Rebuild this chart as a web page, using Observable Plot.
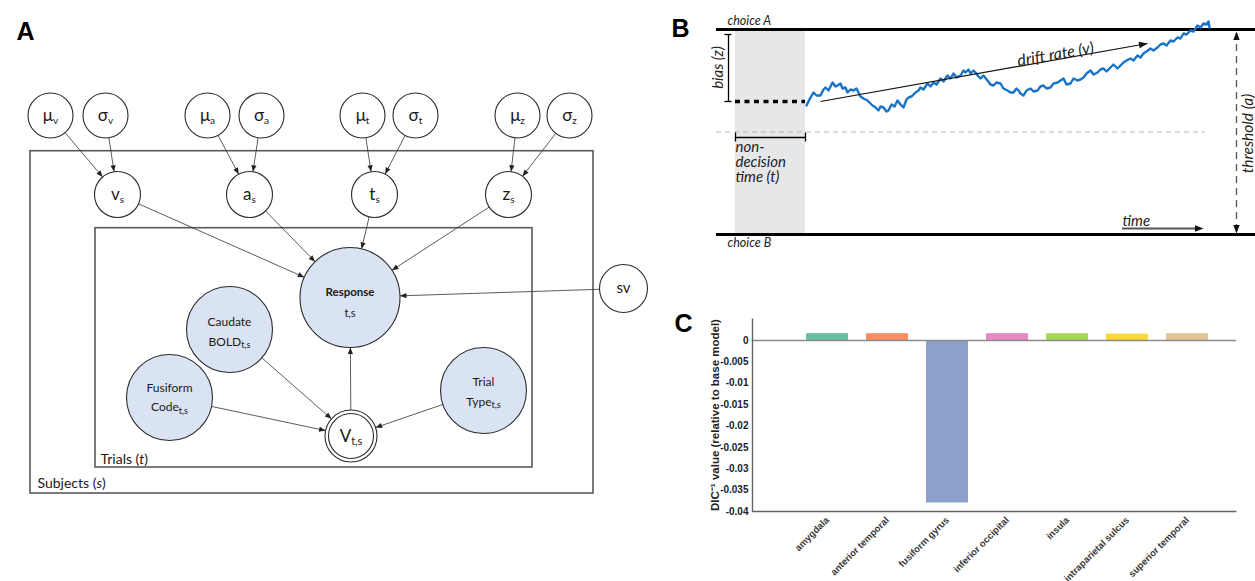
<!DOCTYPE html>
<html>
<head>
<meta charset="utf-8">
<script src="https://cdn.jsdelivr.net/npm/d3@7"></script>
<script src="https://cdn.jsdelivr.net/npm/@observablehq/plot@0.6"></script>
<style>
  html,body{margin:0;padding:0;background:#fff;}
  #fig{position:relative;width:1255px;height:581px;overflow:hidden;background:#fff;}
  #fig svg{position:absolute;}
</style>
</head>
<body>
<div id="fig"></div>
<script>
// ================= DATA =================
// ---- Panel A: hierarchical drift-diffusion model (diagram units) ----
const nodeIds    = ["muV","sigV","muA","sigA","muT","sigT","muZ","sigZ","vS","aS","tS","zS","resp","caud","fus","trial","V","sv"];
const nodeKinds  = ["param","param","param","param","param","param","param","param","param","param","param","param","observed","observed","observed","observed","deterministic","param"];
const nodeLabels = ["μ_v","σ_v","μ_a","σ_a","μ_t","σ_t","μ_z","σ_z","v_s","a_s","t_s","z_s","Response\nt,s","Caudate\nBOLD_t,s","Fusiform\nCode_t,s","Trial\nType_t,s","V_t,s","sv"];
const nodeX      = [50,105,207,261,362,415,517,569,117,249,374,508,349.5,229,169,483,350.5,623];
const nodeY      = [115,115,115,115,115,115,115,115,194,194,194,194,297,329,397,390,435.5,288];
const nodeR      = [22.5,22.5,22.5,22.5,22.5,22.5,22.5,22.5,23,23,23,23,50,43,43,43,26,24];
const edgeFrom   = ["muV","sigV","muA","sigA","muT","sigT","muZ","sigZ","vS","aS","tS","zS","sv","caud","fus","trial","V"];
const edgeTo     = ["vS","vS","aS","aS","tS","tS","zS","zS","resp","resp","resp","resp","resp","V","V","V","resp"];
const plateNames = ["Subjects (_s_)", "Trials (_t_)"];
const plateX1 = [30, 95], plateX2 = [593, 532], plateY1 = [150.7, 227.7], plateY2 = [493, 467];
const plateLabelX = [37, 100], plateLabelY = [483, 459];

// ---- Panel B: drift diffusion process (time units / evidence units) ----
const thresholdA = 205;     // boundary separation a
const startZ = 133;         // starting point (bias z)
const nonDecision = 70;     // non-decision time t
const walkTime = [71,75,78,81,85,88,90,93,97,100,102,105,107,110,112,115,118,121,123,125,128,132,135,137,140,143,145,148,151,153,156,159,162,165,168,171,173,176,180,183,185,188,192,195,198,201,205,208,212,215,218,221,225,228,230,233,235,238,240,243,245,248,252,255,258,261,265,268,272,275,278,281,283,285,288,291,295,298,302,305,308,311,315,318,322,325,328,331,335,338,342,345,348,351,355,358,362,365,368,371,375,378,382,385,388,391,395,398,402,405,408,411,415,418,422,425,428,431,435,438,442,445,448,451,455,458,462,465,468,471,473,474];
const walkEvidence = [129,137,142,139,139,145,147,144,152,148,149,151,146,147,142,145,144,146,142,138,136,134,131,129,127,124,128,127,123,124,130,128,134,130,127,135,137,138,142,144,147,145,151,148,152,150,156,153,159,156,161,157,159,164,162,165,161,164,162,158,156,159,154,150,149,152,151,146,144,142,142,146,144,141,139,144,146,143,144,148,149,146,147,151,152,154,156,150,151,156,154,155,157,161,164,160,162,165,166,163,167,170,166,169,172,174,176,174,179,177,181,183,186,184,187,190,191,189,194,193,197,196,201,200,204,203,209,207,211,210,213,207];
const driftFrom = [85, 133], driftTo = [412, 191];

// ---- Panel C: model comparison ----
const regions = ["amygdala","anterior temporal","fusiform gyrus","inferior occipital","insula","intraparietal sulcus","superior temporal"];
const dicInverse = [0.0016, 0.0016, -0.038, 0.0016, 0.0016, 0.0015, 0.0016];
const regionColors = ["#66c2a5","#fc8d62","#8da0cb","#e78ac3","#a6d854","#ffd92f","#e5c494"];
const dicTicks = [0,-0.005,-0.01,-0.015,-0.02,-0.025,-0.03,-0.035,-0.04];
const dicLabel = "DIC⁻¹ value (relative to base model)";

// ================= HELPERS =================
const FONT = "Lato, 'Open Sans', 'DejaVu Sans', sans-serif";
const FONT_BOLD_LETTER = "'Liberation Sans', Arial, sans-serif";
const fig = document.getElementById("fig");
function place(svg, left, top) { svg.style.left = left + "px"; svg.style.top = top + "px"; fig.appendChild(svg); }

const cv = document.createElement("canvas").getContext("2d");
function textWidth(s, size, weight, style) {
  cv.font = `${style} ${weight} ${size}px ${FONT}`;
  return cv.measureText(s).width;
}
function layoutLine(parts, x, y, anchor) {
  const ws = parts.map(p => textWidth(p.text, p.size, p.weight || "normal", p.style || "normal"));
  const total = d3.sum(ws);
  let cx = anchor === "middle" ? x - total / 2 : x;
  return parts.map((p, i) => {
    const it = {x: cx, y: y + (p.dy || 0), text: p.text, size: p.size, weight: p.weight || "normal", style: p.style || "normal"};
    cx += ws[i];
    return it;
  });
}
function textMarks(items, extra = {}) {
  return d3.groups(items, d => d.weight + "|" + d.style).map(([, arr]) =>
    Plot.text(arr, {x: "x", y: "y", text: "text", fontSize: d => d.size, fontWeight: arr[0].weight, fontStyle: arr[0].style,
      textAnchor: "start", lineAnchor: "middle", fill: "#1a1a1a", fontFamily: FONT, ...extra}));
}
// arrowhead symbols: tip at origin, pointing "up" before rotation
const headSmall = {draw(c) { c.moveTo(0, 0); c.lineTo(-2.6, 6.5); c.lineTo(2.6, 6.5); c.closePath(); }};
const headLarge = {draw(c) { c.moveTo(0, 0); c.lineTo(-3.2, 8.5); c.lineTo(3.2, 8.5); c.closePath(); }};

// ================= PANEL A =================
const nodes = nodeIds.map((id, i) => ({id, kind: nodeKinds[i], label: nodeLabels[i], x: nodeX[i], y: nodeY[i], r: nodeR[i]}));
const byId = Object.fromEntries(nodes.map(n => [n.id, n]));
const edges = edgeFrom.map((s, i) => {
  const a = byId[s], b = byId[edgeTo[i]];
  const dx = b.x - a.x, dy = b.y - a.y, L = Math.hypot(dx, dy), ux = dx / L, uy = dy / L;
  return {x1: a.x + ux * a.r, y1: a.y + uy * a.r, x2: b.x - ux * b.r, y2: b.y - uy * b.r, angle: Math.atan2(uy, ux) * 180 / Math.PI + 90};
});
const lineOffsets = {resp: [-5.5, 15.5], caud: [-7.5, 12.5], fus: [-9, 10], trial: [-8, 11.5]};
const labelItems = [];
nodes.forEach(n => {
  const lines = n.label.split("\n");
  const offs = lineOffsets[n.id] || [0];
  lines.forEach((ln, j) => {
    const [main, sub] = ln.split("_");
    let parts;
    if (n.id === "resp") parts = j === 0 ? [{text: main, size: 11.5, weight: "bold"}] : [{text: main, size: 11}];
    else if (n.kind === "observed") parts = [{text: main, size: 12}].concat(sub ? [{text: sub, size: 9, dy: 3.5}] : []);
    else if (n.id === "sv") parts = [{text: main, size: 15}];
    else if (n.kind === "deterministic") parts = [{text: main, size: 17}, {text: sub, size: 11, dy: 4.5}];
    else parts = [{text: main, size: 17}, {text: sub, size: 10, dy: 5}];
    labelItems.push(...layoutLine(parts, n.x, n.y + offs[j] + (n.kind === "deterministic" ? 1 : 0), "middle"));
  });
});
plateNames.forEach((name, i) => {
  const [a, b, c] = name.split("_");
  labelItems.push(...layoutLine([{text: a, size: 14}, {text: b, size: 14, style: "italic"}, {text: c, size: 14}], plateLabelX[i], plateLabelY[i], "start"));
});
const plates = plateNames.map((n, i) => ({x1: plateX1[i], x2: plateX2[i], y1: plateY1[i], y2: plateY2[i]}));

const panelA = Plot.plot({
  width: 660, height: 581, margin: 0,
  style: {fontFamily: FONT, background: "transparent", overflow: "visible"},
  x: {domain: [0, 660], range: [0, 660], axis: null},
  y: {domain: [0, 581], range: [0, 581], axis: null},
  r: {type: "linear", domain: [0, 100], range: [0, 100]},
  color: {type: "identity"},
  marks: [
    Plot.rect(plates, {x1: "x1", x2: "x2", y1: "y1", y2: "y2", fill: "none", stroke: "#595959", strokeWidth: 1.6}),
    Plot.link(edges, {x1: "x1", y1: "y1", x2: "x2", y2: "y2", stroke: "#333", strokeWidth: 0.8}),
    Plot.dot(edges, {x: "x2", y: "y2", symbol: headSmall, rotate: "angle", fill: "#222", stroke: "none"}),
    Plot.dot(nodes, {x: "x", y: "y", r: "r", fill: d => d.kind === "observed" ? "#dae3f3" : "#ffffff", stroke: "#2b2b2b", strokeWidth: 1.1}),
    Plot.dot(nodes.filter(d => d.kind === "deterministic"), {x: "x", y: "y", r: d => d.r - 3.5, fill: "none", stroke: "#2b2b2b", strokeWidth: 1.1}),
    ...textMarks(labelItems),
    Plot.text(["A"], {frameAnchor: "top-left", dx: 25, dy: 31, fontSize: 25, fontWeight: "bold", fontFamily: FONT_BOLD_LETTER, fill: "#000", textAnchor: "middle", lineAnchor: "middle"})
  ]
});
place(panelA, 0, 0);

// ================= PANEL B =================
const walk = walkTime.map((t, i) => ({t, e: walkEvidence[i]}));
const angleOf = (t1, e1, t2, e2) => Math.atan2(-(e2 - e1), t2 - t1) * 180 / Math.PI + 90;
const bHeads = [
  {t: driftTo[0], e: driftTo[1], a: angleOf(driftFrom[0], driftFrom[1], driftTo[0], driftTo[1])},
  {t: 468, e: 6, a: angleOf(387, 6, 468, 6)},
  {t: 501, e: 203, a: angleOf(501, 100, 501, 203)},
  {t: 501, e: 1, a: angleOf(501, 100, 501, 1)}
];
const bTextsItalic = [
  {t: -8, e: 213.5, text: "choice A", size: 12.5, rot: 0, anchor: "start"},
  {t: -8, e: -8.5, text: "choice B", size: 12.5, rot: 0, anchor: "start"},
  {t: 0, e: 87, text: "non-", size: 15, rot: 0, anchor: "start"},
  {t: 0, e: 72, text: "decision", size: 15, rot: 0, anchor: "start"},
  {t: 0, e: 57, text: "time (t)", size: 15, rot: 0, anchor: "start"},
  {t: 387, e: 13.5, text: "time", size: 15, rot: 0, anchor: "start"},
  {t: -17, e: 167, text: "bias (z)", size: 15, rot: -90, anchor: "middle"},
  {t: 320, e: 180, text: "drift rate (v)", size: 16, rot: -10, anchor: "middle"},
  {t: 513, e: 101, text: "threshold (a)", size: 15.5, rot: -90, anchor: "middle"}
];
const panelB = Plot.plot({
  width: 595, height: 300, margin: 0,
  style: {fontFamily: FONT, background: "transparent", overflow: "visible"},
  x: {domain: [-75, 520], axis: null},
  y: {domain: [-66, 234], axis: null},
  marks: [
    Plot.rect([{t1: 0, t2: nonDecision, e1: 0, e2: thresholdA}], {x1: "t1", x2: "t2", y1: "e1", y2: "e2", fill: "#e6e7e9"}),
    Plot.ruleY([thresholdA / 2], {x1: -19, x2: 470, stroke: "#b8b8b8", strokeWidth: 1.2, strokeDasharray: "5,4"}),
    Plot.ruleY([0, thresholdA], {x1: -19, x2: 520, stroke: "#000", strokeWidth: 3}),
    Plot.ruleY([startZ], {x1: 0, x2: nonDecision, stroke: "#000", strokeWidth: 3.5, strokeDasharray: "5,4.5"}),
    // bias bracket
    Plot.ruleX([-7], {y1: startZ, y2: 200, stroke: "#000", strokeWidth: 1.3}),
    Plot.ruleY([startZ, 200], {x1: -10.5, x2: -3.5, stroke: "#000", strokeWidth: 1.3}),
    // non-decision bracket
    Plot.ruleY([97], {x1: 0, x2: nonDecision, stroke: "#000", strokeWidth: 1.3}),
    Plot.ruleX([0, nonDecision], {y1: 92.5, y2: 101.5, stroke: "#000", strokeWidth: 1.3}),
    // random walk
    Plot.line(walk, {x: "t", y: "e", stroke: "#1a73c5", strokeWidth: 2.4, strokeLinejoin: "round"}),
    // drift arrow
    Plot.link([{}], {x1: () => driftFrom[0], y1: () => driftFrom[1], x2: () => driftTo[0], y2: () => driftTo[1], stroke: "#111", strokeWidth: 1.2}),
    // threshold arrow
    Plot.ruleX([501], {y1: 3, y2: 201, stroke: "#555", strokeWidth: 1.3, strokeDasharray: "7,5"}),
    // time arrow
    Plot.ruleY([6], {x1: 387, x2: 462, stroke: "#555", strokeWidth: 2}),
    Plot.dot(bHeads, {x: "t", y: "e", symbol: headLarge, rotate: "a", fill: "#111", stroke: "none"}),
    Plot.text(bTextsItalic.filter(d => d.anchor === "start"), {x: "t", y: "e", text: "text", fontSize: d => d.size, rotate: "rot", fontStyle: "italic", textAnchor: "start", lineAnchor: "middle", fill: "#222", fontFamily: FONT}),
    Plot.text(bTextsItalic.filter(d => d.anchor === "middle"), {x: "t", y: "e", text: "text", fontSize: d => d.size, rotate: "rot", fontStyle: "italic", textAnchor: "middle", lineAnchor: "middle", fill: "#222", fontFamily: FONT}),
    Plot.text(["B"], {frameAnchor: "top-left", dx: 20, dy: 28, fontSize: 25, fontWeight: "bold", fontFamily: FONT_BOLD_LETTER, fill: "#000", textAnchor: "middle", lineAnchor: "middle"})
  ]
});
place(panelB, 660, 0);

// ================= PANEL C =================
const cData = regions.map((r, i) => ({region: r, value: dicInverse[i], color: regionColors[i]}));
const WC = 595, HC = 281, mL = 92, mT = 18, mR = 19, mB = 70;
const frameW = WC - mL - mR, frameH = HC - mT - mB;
const panelC = Plot.plot({
  width: WC, height: HC, marginLeft: mL, marginTop: mT, marginRight: mR, marginBottom: mB,
  style: {fontFamily: "'Liberation Sans', Arial, sans-serif", background: "transparent", overflow: "visible"},
  x: {domain: regions, range: [144.3, 548.9], paddingInner: 0.3, paddingOuter: 0},
  y: {domain: [-0.04, 0.00515]},
  color: {type: "identity"},
  marks: [
    Plot.barY(cData, {x: "region", y: "value", fill: "color"}),
    Plot.ruleY([0], {stroke: "#8c8c8c", strokeWidth: 1.4}),
    Plot.frame({stroke: "#666", strokeWidth: 1.4, strokeDasharray: `0 ${frameW + frameH} ${frameW + frameH}`}),
    Plot.axisY({ticks: dicTicks, tickSize: 0, tickPadding: 4, tickFormat: d => d === 0 ? "0" : String(d), fontWeight: "bold", fontSize: 10, fill: "#222", label: null}),
    Plot.axisX({tickRotate: -45, tickSize: 0, tickPadding: 7, fontWeight: "bold", fontSize: 9.5, fill: "#3a3a3a", label: null}),
    Plot.text([dicLabel], {frameAnchor: "left", dx: -37, rotate: -90, textAnchor: "middle", fontWeight: "bold", fontSize: 11.5, fill: "#222", lineAnchor: "middle"}),
    Plot.text(["C"], {frameAnchor: "top-left", dx: -69, dy: 5, fontSize: 25, fontWeight: "bold", fontFamily: FONT_BOLD_LETTER, fill: "#000", textAnchor: "middle", lineAnchor: "middle"})
  ]
});
place(panelC, 660, 300);
</script>
</body>
</html>
